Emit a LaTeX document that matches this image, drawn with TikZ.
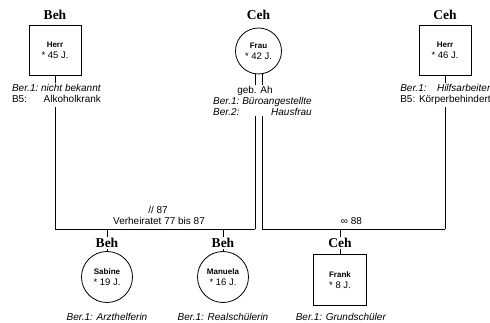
\documentclass[tikz,border=0pt]{standalone}
\usepackage{fontspec}
\setmainfont{Liberation Sans}
\newfontfamily\gruppefont{Liberation Serif}
\usetikzlibrary{positioning,shapes.geometric}

\begin{document}
\begin{tikzpicture}[x=1pt, y=-1pt,
    person/.style={draw, line width=0.8pt, inner sep=0pt, align=center,
                   font=\fontsize{9.5}{11}\selectfont},
    mann/.style={person, rectangle, minimum width=52pt, minimum height=50pt},
    weib/.style={person, circle, minimum size=51pt},
    gruppe/.style={font=\gruppefont\fontsize{13.5}{14}\selectfont\bfseries, inner sep=1pt},
    beruf/.style={font=\fontsize{10}{11}\selectfont, inner sep=1pt},
    linie/.style={line width=0.8pt}
  ]
  \useasboundingbox (0,0) rectangle (490,323);
  \newcommand{\nm}[1]{{\fontsize{8}{9}\selectfont\bfseries #1}}

  % Eltern
  \node[gruppe] (gHerrL) at (55,15) {Beh};
  \node[mann] (herrL) at (55,50) {\nm{Herr}\\{*}~45~J.};
  \node[gruppe] (gFrau) at (258.5,15) {Ceh};
  \node[weib, minimum size=46pt] (frau) at (258.5,51) {\nm{Frau}\\{*}~42~J.};
  \node[gruppe] (gHerrR) at (445,15) {Ceh};
  \node[mann] (herrR) at (445,50) {\nm{Herr}\\{*}~46~J.};

  \node[beruf, anchor=north] (infoL) at (56.5,83)
    {\begin{tabular}{@{}l@{\ }r@{}}\textit{Ber.1:} & \textit{nicht bekannt}\\ B5: & Alkoholkrank\end{tabular}};
  \node[beruf, anchor=base] (gebM) at (255,93.6) {geb. Ah};
  \node[beruf, anchor=north west] (infoM) at (212,96)
    {\begin{tabular}{@{}l@{\ }r@{}}\textit{Ber.1:} & \textit{Büroangestellte}\\ \textit{Ber.2:} & \textit{Hausfrau}\end{tabular}};
  \node[beruf, anchor=north] (infoR) at (445.5,83)
    {\begin{tabular}{@{}l@{}r@{}}\textit{Ber.1:} & \textit{Hilfsarbeiter}\\ \multicolumn{2}{@{}l@{}}{B5: Körperbehindert}\end{tabular}};

  \coordinate (jL) at (55,229);
  \coordinate (jML) at (255,229);
  \coordinate (jMR) at (262,229);
  \coordinate (jR) at (445,229);

  \draw[linie] (herrL.south) -- (herrL.south |- infoL.north);
  \draw[linie] (herrL.south |- infoL.south) -- (jL) -- (jML);
  \draw[linie] ([xshift=-3.5pt]frau.south) -- (jML |- gebM.north);
  \draw[linie] ([xshift=3.5pt]frau.south) -- (jMR |- gebM.north);
  \draw[linie] ([yshift=4pt]jML |- infoM.south) -- (jML);
  \draw[linie] ([yshift=4pt]jMR |- infoM.south) -- (jMR) -- (jR);
  \draw[linie] (herrR.south) -- (herrR.south |- infoR.north);
  \draw[linie] (herrR.south |- infoR.south) -- (jR);

  \node[beruf] (trenn) at (158,210) {// 87};
  \node[beruf] (ehe) at (159,221) {Verheiratet 77 bis 87};
  \node[beruf] (eheR) at (351.5,221) {∞ 88};

  % Kinder
  \node[gruppe] (gSabine) at (107,243) {Beh};
  \node[weib] (sabine) at (107,277) {\nm{Sabine}\\{*}~19~J.};
  \node[gruppe] (gManuela) at (223,243) {Beh};
  \node[weib] (manuela) at (223,277) {\nm{Manuela}\\{*}~16~J.};
  \node[gruppe] (gFrank) at (340,243) {Ceh};
  \node[mann, minimum width=53pt, minimum height=51pt] (frank) at (340,280) {\nm{Frank}\\{*}~8~J.};

  \node[beruf] (bSabine) at (107,317) {\textit{Ber.1: Arzthelferin}};
  \node[beruf] (bManuela) at (223,317) {\textit{Ber.1: Realschülerin}};
  \node[beruf] (bFrank) at (341,317) {\textit{Ber.1: Grundschüler}};

  \draw[linie] (gSabine.north |- jL) -- (gSabine.north);
  \draw[linie] (gSabine.south) -- (sabine.north);
  \draw[linie] (gManuela.north |- jL) -- (gManuela.north);
  \draw[linie] (gManuela.south) -- (manuela.north);
  \draw[linie] (gFrank.north |- jR) -- (gFrank.north);
  \draw[linie] (gFrank.south) -- (frank.north);
\end{tikzpicture}
\end{document}
